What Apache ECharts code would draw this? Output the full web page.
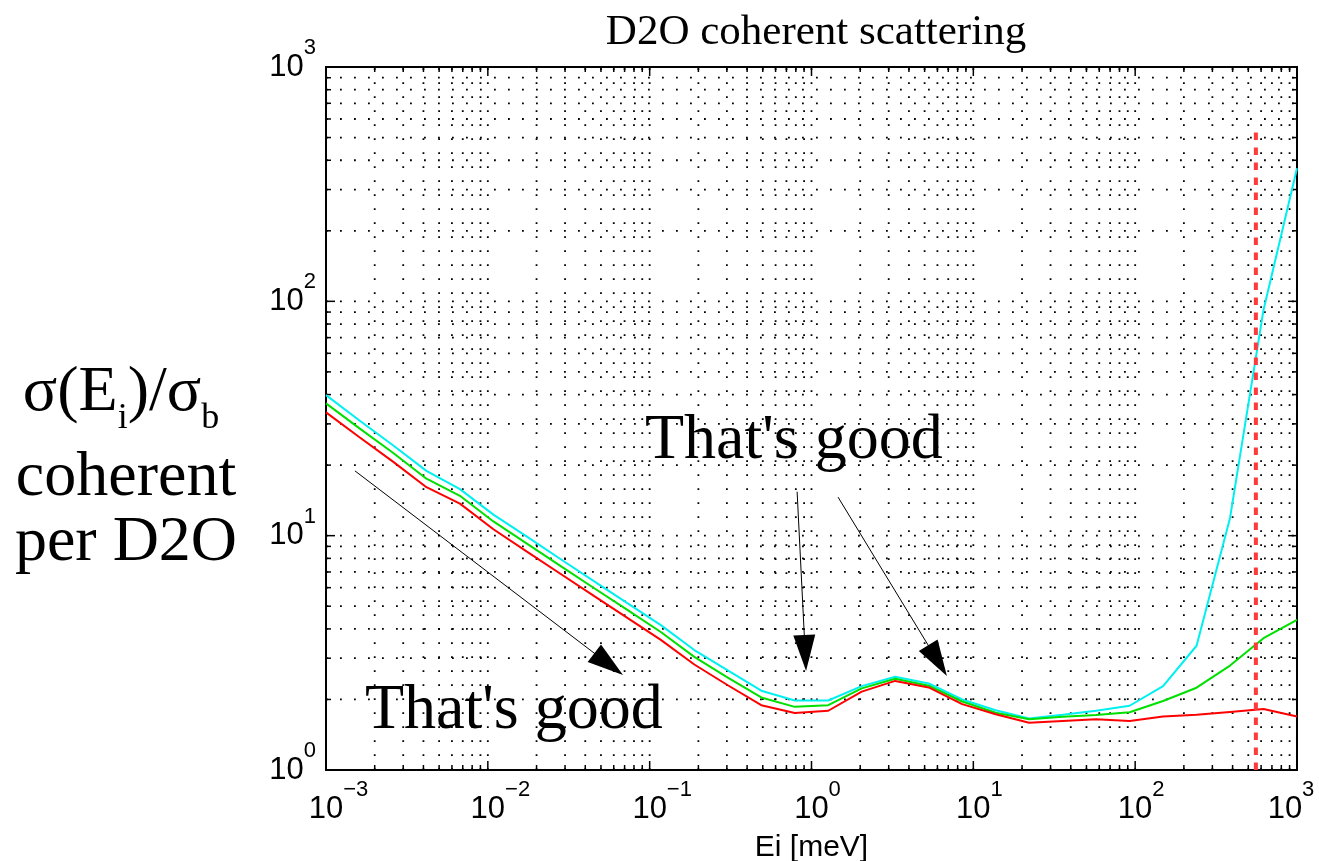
<!DOCTYPE html>
<html>
<head>
<meta charset="utf-8">
<script src="https://cdn.jsdelivr.net/npm/echarts@6/dist/echarts.min.js"></script>
<style>
  html, body { margin: 0; padding: 0; background: #fff; }
  #chart { width: 1319px; height: 861px; }
</style>
</head>
<body>
<div id="chart"></div>
<script>
// Incident energies [meV], 30 log-spaced points from 1e-3 to 1e3
const energies = [
  0.001, 0.00161, 0.002593, 0.004175, 0.006723, 0.010826, 0.017433, 0.028072,
  0.045204, 0.07279, 0.11721, 0.18874, 0.30392, 0.48939, 0.78805, 1.269,
  2.0434, 3.2903, 5.2983, 8.5317, 13.738, 22.122, 35.622, 57.362,
  92.367, 148.74, 239.5, 385.66, 621.02, 1000
];

// sigma(Ei)/sigma_b, coherent, per D2O molecule
const sigmaCyan = [
  39.8, 31.0, 24.3, 18.9, 15.8, 12.3, 9.9, 7.95, 6.4, 5.15, 4.15, 3.25, 2.66, 2.18,
  1.98, 1.98, 2.28, 2.50, 2.34, 2.00, 1.80, 1.66, 1.72, 1.79, 1.88, 2.28, 3.39, 11.9, 91.9, 370
];
const sigmaGreen = [
  36.7, 28.7, 22.6, 17.5, 14.8, 11.5, 9.25, 7.43, 5.98, 4.82, 3.88, 3.04, 2.48, 2.04,
  1.86, 1.89, 2.23, 2.45, 2.29, 1.96, 1.756, 1.646, 1.689, 1.717, 1.763, 1.97, 2.245, 2.79, 3.65, 4.37
];
const sigmaRed = [
  33.6, 26.3, 20.7, 16.1, 13.7, 10.65, 8.55, 6.88, 5.53, 4.46, 3.59, 2.82, 2.30, 1.89,
  1.75, 1.79, 2.16, 2.40, 2.25, 1.91, 1.73, 1.59, 1.62, 1.646, 1.62, 1.69, 1.72, 1.77, 1.82, 1.69
];

// Vertical cutoff marker
const cutoffEnergy = 557;
const cutoffRange = [1, 530];

// Axis decades and per-decade sub-divisions (grid and ticks)
const xDecades = [-3, -2, -1, 0, 1, 2];
const yDecades = [0, 1, 2];
const subDivisions = [1, 2, 3, 4, 5, 6, 7, 8, 9];

// Annotation arrows: [start, arrow head] in data coordinates
const arrowLines = [
  [[0.00151, 18.9], [0.0558, 2.83]],
  [[0.815, 15.4], [0.914, 3.16]],
  [[1.459, 14.6], [6.01, 2.93]]
];
const noteText = "That's good";

const SERIF = 'Liberation Serif, Times New Roman, serif';
const SANS = 'Liberation Sans, Arial, Helvetica, sans-serif';

function pairs(xs, ys) { return xs.map((x, i) => [x, ys[i]]); }

function gridValues(decades) {
  const out = [];
  decades.forEach(d => subDivisions.forEach(k => {
    out.push([k * Math.pow(10, d), k === 1 ? 1 : 0]);
  }));
  return out;
}
const xGrid = gridValues(xDecades).filter(v => v[0] > 0.001 * 1.0001);
const yGrid = gridValues(yDecades).filter(v => v[0] > 1.0001);

function expText(v) {
  const e = Math.round(Math.log10(v));
  return { e, txt: e < 0 ? '\u2212' + (-e) : String(e) };
}

const baseRich = {
  b: { fontFamily: SANS, fontSize: 31, color: '#000', lineHeight: 60, verticalAlign: 'middle' },
  e: { fontFamily: SANS, fontSize: 22, color: '#000', lineHeight: 22, verticalAlign: 'top' },
  p1: { width: 12, fontSize: 22, lineHeight: 22 },
  p2: { width: 25, fontSize: 22, lineHeight: 22 }
};

// x labels: "10" sits on the tick, exponent trails; the last label is pulled inside the canvas
function xLabel(v) {
  const t = expText(v);
  if (t.e >= 3) return '{b|10}{e|' + t.txt + '}{p1| }';
  return '{' + (t.e < 0 ? 'p2' : 'p1') + '| }{b|10}{e|' + t.txt + '}';
}

const dotted = { stroke: '#000', lineWidth: 1.8, lineDash: [1.8, 12.2] };
const tickStyle = { stroke: '#000', lineWidth: 1.5 };

function renderXGrid(params, api) {
  const r = params.coordSys;
  const px = api.coord([api.value(0), 1])[0];
  const len = api.value(2) === 1 ? 9 : 5;
  return {
    type: 'group',
    children: [
      { type: 'line', silent: true, shape: { x1: px, y1: r.y + r.height, x2: px, y2: r.y }, style: dotted },
      { type: 'line', silent: true, shape: { x1: px, y1: r.y + r.height, x2: px, y2: r.y + r.height - len }, style: tickStyle },
      { type: 'line', silent: true, shape: { x1: px, y1: r.y, x2: px, y2: r.y + len }, style: tickStyle }
    ]
  };
}
function renderYGrid(params, api) {
  const r = params.coordSys;
  const py = api.coord([1, api.value(1)])[1];
  const len = api.value(2) === 1 ? 9 : 5;
  return {
    type: 'group',
    children: [
      { type: 'line', silent: true, shape: { x1: r.x, y1: py, x2: r.x + r.width, y2: py }, style: dotted },
      { type: 'line', silent: true, shape: { x1: r.x, y1: py, x2: r.x + len, y2: py }, style: tickStyle },
      { type: 'line', silent: true, shape: { x1: r.x + r.width, y1: py, x2: r.x + r.width - len, y2: py }, style: tickStyle }
    ]
  };
}

const chart = echarts.init(document.getElementById('chart'), null, { renderer: 'canvas' });

chart.setOption({
  animation: false,
  backgroundColor: '#fff',
  title: {
    text: 'D2O coherent scattering',
    left: 811, top: 6, textAlign: 'center',
    textStyle: { fontFamily: SERIF, fontSize: 43, fontWeight: 'normal', color: '#000' }
  },
  grid: {
    left: 326, right: 22, top: 67, bottom: 91,
    outerBoundsMode: 'none', containLabel: false,
    show: true, borderColor: '#000', borderWidth: 2, backgroundColor: 'transparent'
  },
  xAxis: {
    type: 'log', logBase: 10, min: 0.001, max: 1000, splitNumber: 6,
    axisLine: { show: false }, axisTick: { show: false }, splitLine: { show: false },
    axisLabel: {
      margin: 9, showMinLabel: true, showMaxLabel: true, hideOverlap: false,
      formatter: xLabel,
      rich: baseRich
    },
    name: 'Ei [meV]', nameLocation: 'middle', nameGap: 63,
    nameTextStyle: { fontFamily: SANS, fontSize: 30, color: '#000' }
  },
  yAxis: {
    type: 'log', logBase: 10, min: 1, max: 1000, splitNumber: 3,
    axisLine: { show: false }, axisTick: { show: false }, splitLine: { show: false },
    axisLabel: {
      margin: 10, showMinLabel: true, showMaxLabel: true, hideOverlap: false,
      formatter: v => { const t = expText(v); return '{b|10}{e|' + t.txt + '}'; },
      rich: baseRich
    }
  },
  graphic: [
    {
      type: 'text', x: 121, y: 393, silent: true,
      style: {
        text: '{n|\u03c3(E}{s|i}{n|)/\u03c3}{s|b}', align: 'center', verticalAlign: 'middle',
        rich: {
          n: { fontFamily: SERIF, fontSize: 64, color: '#000', lineHeight: 88, verticalAlign: 'middle' },
          s: { fontFamily: SERIF, fontSize: 36, color: '#000', lineHeight: 10, verticalAlign: 'bottom' }
        }
      }
    },
    { type: 'text', x: 126, y: 478, silent: true,
      style: { text: 'coherent', align: 'center', verticalAlign: 'middle', fontFamily: SERIF, fontSize: 64, fill: '#000' } },
    { type: 'text', x: 126, y: 543, silent: true,
      style: { text: 'per D2O', align: 'center', verticalAlign: 'middle', fontFamily: SERIF, fontSize: 64, fill: '#000' } },
    { type: 'text', x: 365, y: 711, silent: true,
      style: { text: noteText, align: 'left', verticalAlign: 'middle', fontFamily: SERIF, fontSize: 64, fill: '#000' } },
    { type: 'text', x: 645, y: 441, silent: true,
      style: { text: noteText, align: 'left', verticalAlign: 'middle', fontFamily: SERIF, fontSize: 64, fill: '#000' } }
  ],
  series: [
    { type: 'custom', name: 'xgrid', data: xGrid.map(v => [v[0], 1, v[1]]), encode: { x: 0, y: 1 },
      renderItem: renderXGrid, silent: true, z: 1, clip: false },
    { type: 'custom', name: 'ygrid', data: yGrid.map(v => [1, v[0], v[1]]), encode: { x: 0, y: 1 },
      renderItem: renderYGrid, silent: true, z: 1, clip: false },
    { type: 'line', name: 'cyan', data: pairs(energies, sigmaCyan), showSymbol: false, symbol: 'none',
      lineStyle: { color: '#00f0f0', width: 2 }, itemStyle: { color: '#00f0f0' }, z: 3 },
    { type: 'line', name: 'green', data: pairs(energies, sigmaGreen), showSymbol: false, symbol: 'none',
      lineStyle: { color: '#00e000', width: 2 }, itemStyle: { color: '#00e000' }, z: 4 },
    { type: 'line', name: 'red', data: pairs(energies, sigmaRed), showSymbol: false, symbol: 'none',
      lineStyle: { color: '#ff0000', width: 2 }, itemStyle: { color: '#ff0000' }, z: 5 },
    { type: 'line', name: 'cutoff', data: [[cutoffEnergy, cutoffRange[0]], [cutoffEnergy, cutoffRange[1]]],
      showSymbol: false, symbol: 'none', z: 6,
      lineStyle: { color: '#ff3a3a', width: 4, type: [7.5, 7.5] }, itemStyle: { color: '#ff3a3a' },
      markLine: {
        silent: true, animation: false,
        symbol: ['none', 'triangle'], symbolSize: [22, 36],
        lineStyle: { color: '#000', width: 1, type: 'solid' },
        itemStyle: { color: '#000' },
        label: { show: false },
        emphasis: { disabled: true },
        data: arrowLines.map(a => [{ coord: a[0] }, { coord: a[1] }])
      }
    }
  ]
});
</script>
</body>
</html>
